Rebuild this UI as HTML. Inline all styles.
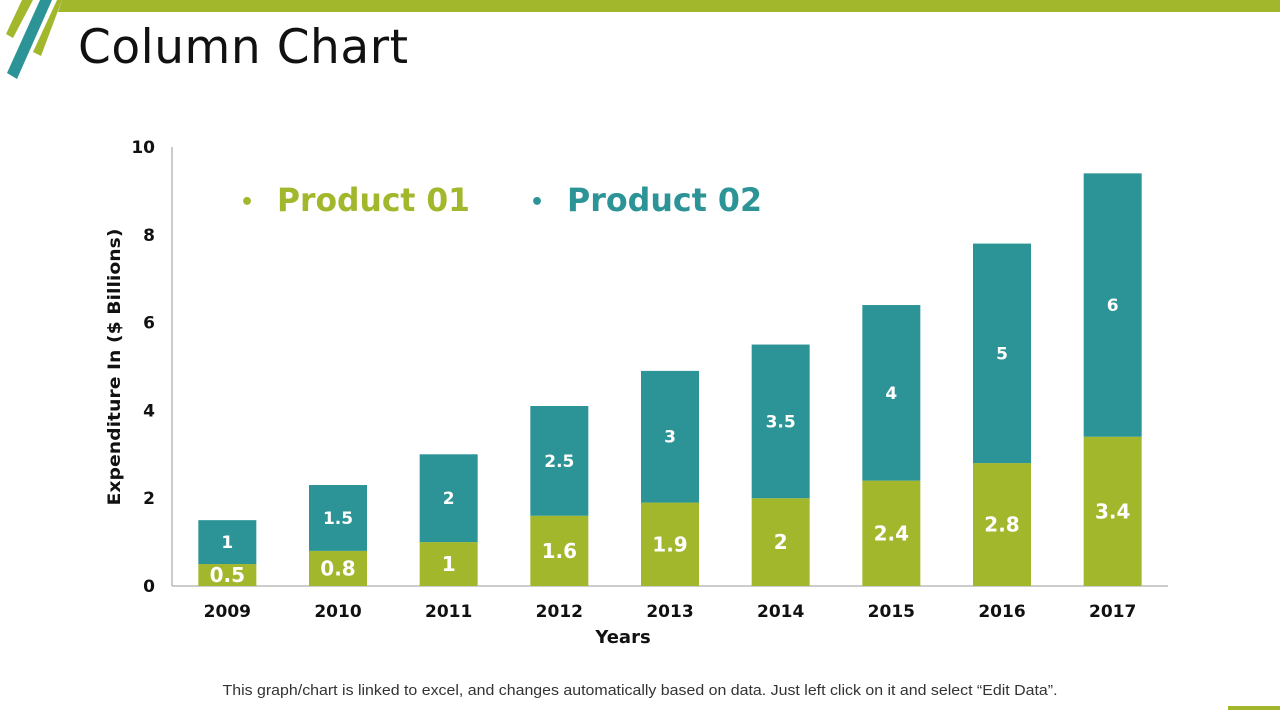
<!DOCTYPE html>
<html><head><meta charset="utf-8"><style>
body{margin:0;width:1280px;height:720px;background:#fff;font-family:"Liberation Sans",sans-serif;overflow:hidden;position:relative}
</style></head><body>
<svg width="1280" height="720" style="position:absolute;left:0;top:0">
<g>
<polygon points="62,0 1280,0 1280,12 58,12" fill="#a2b72b"/>
<polygon points="22,0 33,0 13,38 6,34" fill="#a2b72b"/>
<polygon points="40,0 52,0 17,79 7,73" fill="#2c9496"/>
<polygon points="57,0 62,0 41,56 33,52" fill="#a2b72b"/>
<rect x="1228" y="706" width="52" height="4" fill="#a2b72b"/>
</g>
<text x="78" y="63" font-size="47" fill="#111" textLength="330" font-family="DejaVu Sans, sans-serif">Column Chart</text>
<g id="chart" font-family="DejaVu Sans, sans-serif"></g>
<text x="640" y="695" font-size="15" fill="#333" text-anchor="middle" textLength="835" lengthAdjust="spacingAndGlyphs">This graph/chart is linked to excel, and changes automatically  based on data. Just left click on it and select “Edit Data”.</text>
</svg>
<script>
const years=["2009","2010","2011","2012","2013","2014","2015","2016","2017"];
const product01=[0.5,0.8,1,1.6,1.9,2,2.4,2.8,3.4];
const product02=[1,1.5,2,2.5,3,3.5,4,5,6];
const yTicks=[0,2,4,6,8,10];
const NS="http://www.w3.org/2000/svg";
const g=document.getElementById('chart');
const x0=172,x1=1168,y0=586,y1=147,bw=58;
const ys=v=>y0-(v/10)*(y0-y1);
const step=(x1-x0)/years.length;
const xc=i=>x0+step*(i+0.5);
function el(t,a,txt){const e=document.createElementNS(NS,t);for(const k in a)e.setAttribute(k,a[k]);if(txt!=null)e.textContent=txt;g.appendChild(e);return e;}
let e;
e=el('line',{x1:x0,y1:y1,x2:x0,y2:y0,stroke:'#999'});


e=el('line',{x1:x0,y1:y0,x2:x1,y2:y0,stroke:'#999'});


yTicks.forEach(t=>{e=el('text',{x:155,y:ys(t)+6,'font-size':17,'font-weight':'bold','text-anchor':'end',fill:'#111'},t);

});
years.forEach((yr,i)=>{
 const c=xc(i),a=product01[i],b=product02[i];
 e=el('rect',{x:c-bw/2,y:ys(a),width:bw,height:y0-ys(a),fill:'#a2b72b'});
 
 
 e=el('rect',{x:c-bw/2,y:ys(a+b),width:bw,height:ys(a)-ys(a+b),fill:'#2c9496'});
 
 
 e=el('text',{x:c,y:(ys(a)+y0)/2+7,'font-size':20,'font-weight':'bold','text-anchor':'middle',fill:'#fff'},a);
 
 
 e=el('text',{x:c,y:(ys(a)+ys(a+b))/2+6,'font-size':17,'font-weight':'bold','text-anchor':'middle',fill:'#fff'},b);
 
 
 e=el('text',{x:c,y:617,'font-size':17,'font-weight':'bold','text-anchor':'middle',fill:'#111'},yr);
 
 
});
e=el('text',{x:623,y:643,'font-size':18,'font-weight':'bold','text-anchor':'middle',fill:'#111'},'Years');


e=el('text',{x:0,y:0,'font-size':17,'font-weight':'bold','text-anchor':'middle',fill:'#111',textLength:277,lengthAdjust:'spacingAndGlyphs',transform:'translate(120,367) rotate(-90)'},'Expenditure In ($ Billions)');


e=el('text',{x:240,y:209,'font-size':22,'font-weight':'bold',fill:'#a2b72b'},'•');


e=el('text',{x:277,y:211,'font-size':32,'font-weight':'bold',fill:'#a2b72b',textLength:193,lengthAdjust:'spacingAndGlyphs'},'Product 01');


e=el('text',{x:530,y:209,'font-size':22,'font-weight':'bold',fill:'#2c9496'},'•');


e=el('text',{x:567,y:211,'font-size':32,'font-weight':'bold',fill:'#2c9496',textLength:195,lengthAdjust:'spacingAndGlyphs'},'Product 02');


</script>
</body></html>
